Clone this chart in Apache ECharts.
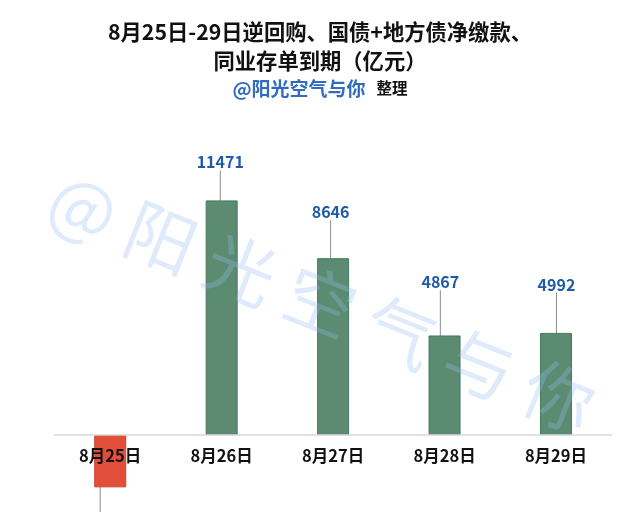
<!DOCTYPE html>
<html>
<head>
<meta charset="utf-8">
<script src="https://cdn.jsdelivr.net/npm/echarts@6/dist/echarts.min.js"></script>
<style>
html,body{margin:0;padding:0;background:#fff;}
#main{width:640px;height:512px;}
</style>
</head>
<body>
<div id="main"></div>
<script>
const categories = ['8月25日', '8月26日', '8月27日', '8月28日', '8月29日'];
const values = [-2560, 11471, 8646, 4867, 4992];
const titleLines = ['8月25日-29日逆回购、国债+地方债净缴款、', '同业存单到期（亿元）'];
const authorText = '@阳光空气与你';
const noteText = '整理';
const watermarkText = '@ 阳 光 空 气 与 你';

// label callout placement (px) relative to bar end
const labelGap = [50, 38, 46, 53.3, 48.3];
const labelShift = [-10, -1.4, -2.5, -4.2, 0.5];

const FONT = '"Noto Sans CJK SC", "Noto Sans", sans-serif';
const chart = echarts.init(document.getElementById('main'), null, {renderer: 'canvas'});

const option = {
  backgroundColor: '#ffffff',
  animation: false,
  title: [
    {
      text: titleLines.join('\n'),
      left: 'center',
      top: 12.5,
      textStyle: {fontFamily: FONT, fontSize: 21.3, fontWeight: 'bold', color: '#111', lineHeight: 29}
    },
    {
      text: '{a|' + authorText + '}{g|}{b|' + noteText + '}',
      left: 'center',
      top: 74,
      textStyle: {
        rich: {
          a: {fontFamily: FONT, fontSize: 19, fontWeight: 'bold', color: '#2f6cbf'},
          g: {width: 11},
          b: {fontFamily: FONT, fontSize: 15.5, fontWeight: 'bold', color: '#111'}
        }
      }
    }
  ],
  grid: {left: 54.5, right: 28.3, top: 169.15, bottom: 15.65, containLabel: false, outerBoundsMode: 'none'},
  xAxis: {
    type: 'category',
    data: categories,
    z: 10,
    axisLine: {show: true, onZero: true, lineStyle: {color: '#d9d9d9', width: 1.5}},
    axisTick: {show: false},
    axisLabel: {fontFamily: FONT, fontSize: 16.5, fontWeight: 'bold', color: '#111', margin: -48.5}
  },
  yAxis: {
    type: 'value',
    min: -3000,
    max: 13000,
    show: false,
    splitLine: {show: false}
  },
  series: [{
    type: 'bar',
    barWidth: 32,
    data: values.map(v => ({
      value: v,
      itemStyle: v < 0
        ? {color: '#e14f3a', borderColor: '#c9452f', borderWidth: 1}
        : {color: '#5b8b71', borderColor: '#457a5d', borderWidth: 1},
      label: {position: v < 0 ? 'bottom' : 'top'}
    })),
    label: {
      show: true,
      fontFamily: FONT,
      fontSize: 16,
      fontWeight: 'bold',
      color: '#1f5aa8',
      padding: [6, 0, 6, 0]
    },
    labelLine: {show: true, lineStyle: {color: '#8c8c8c', width: 1}},
    labelLayout: function (p) {
      const i = p.dataIndex;
      const r = p.rect;
      const top = Math.min(r.y, r.y + r.height);
      const bot = Math.max(r.y, r.y + r.height);
      const cx = r.x + r.width / 2;
      const neg = values[i] < 0;
      return {
        x: cx + labelShift[i],
        y: neg ? bot + labelGap[i] : top - labelGap[i],
        align: 'center',
        verticalAlign: 'middle'
      };
    }
  }],
  graphic: [{
    type: 'text',
    x: 322,
    y: 302,
    rotation: -0.38,
    z: 100,
    silent: true,
    style: {
      text: watermarkText,
      fontFamily: FONT,
      fontSize: 70,
      fontWeight: 'normal',
      fill: 'rgba(150,188,238,0.3)',
      textAlign: 'center',
      textVerticalAlign: 'middle'
    }
  }]
};
chart.setOption(option);
</script>
</body>
</html>
